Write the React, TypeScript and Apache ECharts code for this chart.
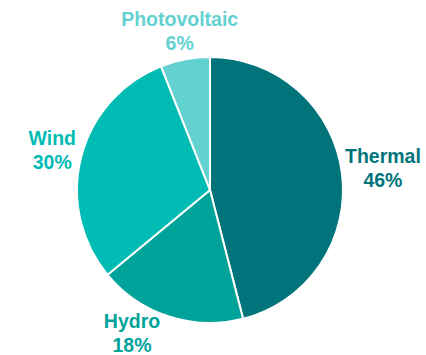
import React, { useEffect, useRef } from "react";
import * as echarts from "echarts";

const categories = ["Thermal", "Hydro", "Wind", "Photovoltaic"];
const shares = [46, 18, 30, 6];
const colors = ["#00747A", "#00A39A", "#00BCB4", "#64D1D1"];

const W = 426;
const H = 355;
const CX = 210;
const CY = 190;
const R = 133;
const GAP = 2;

function clamp(v: number, a: number, b: number) {
  return Math.max(a, Math.min(b, v));
}

function nearestDist(cx: number, cy: number, w: number, h: number) {
  const px = clamp(CX, cx - w, cx + w);
  const py = clamp(CY, cy - h, cy + h);
  return Math.hypot(px - CX, py - CY);
}

function placeLabel(i: number, w: number, h: number) {
  const total = shares.reduce((a, b) => a + b, 0);
  let start = 0;
  for (let k = 0; k < i; k++) start += shares[k];
  const mid = ((start + shares[i] / 2) / total) * Math.PI * 2;
  const ux = Math.sin(mid);
  const uy = -Math.cos(mid);
  const target = R + GAP;
  let lo = 0, hi = 400;
  for (let it = 0; it < 40; it++) {
    const d = (lo + hi) / 2;
    if (nearestDist(CX + d * ux, CY + d * uy, w, h) < target) lo = d;
    else hi = d;
  }
  let cx = CX + hi * ux;
  let cy = CY + hi * uy;
  const cyc = clamp(cy, h - 2, H - h + 2);
  if (cyc !== cy) {
    cy = cyc;
    const side = ux < 0 ? -1 : 1;
    const slideTarget = R - 4;
    let a = 0, b = 300;
    for (let it = 0; it < 40; it++) {
      const t = (a + b) / 2;
      if (nearestDist(CX + side * t, cy, w, h) < slideTarget) a = t;
      else b = t;
    }
    cx = CX + side * b;
  }
  cx = clamp(cx, w, W - w);
  return { x: cx, y: cy };
}

export default function App() {
  const ref = useRef<HTMLDivElement>(null);
  useEffect(() => {
    if (!ref.current) return;
    const chart = echarts.init(ref.current, null, { renderer: "svg" });
    chart.setOption({
      animation: false,
      backgroundColor: "#ffffff",
      series: [
        {
          type: "pie",
          center: [CX, CY],
          radius: R,
          startAngle: 90,
          clockwise: true,
          avoidLabelOverlap: false,
          itemStyle: { borderColor: "#ffffff", borderWidth: 2 },
          label: {
            show: true,
            position: "outside",
            fontFamily: "Liberation Sans, Arial, sans-serif",
            fontWeight: "bold",
            fontSize: 19.5,
            lineHeight: 24,
            align: "center",
            formatter: (p: any) => `${p.name}\n${p.value}%`,
          },
          labelLine: { show: false },
          labelLayout: (p: any) => {
            const pos = placeLabel(p.dataIndex, p.labelRect.width / 2, p.labelRect.height / 2);
            return { x: pos.x, y: pos.y, align: "center", verticalAlign: "middle" };
          },
          data: categories.map((c, i) => ({
            name: c,
            value: shares[i],
            itemStyle: { color: colors[i] },
            label: { color: colors[i] },
          })),
        },
      ],
    });
    return () => chart.dispose();
  }, []);
  return (
    <div
      ref={ref}
      style={{ position: "absolute", left: 0, top: 0, width: W, height: H }}
    />
  );
}
